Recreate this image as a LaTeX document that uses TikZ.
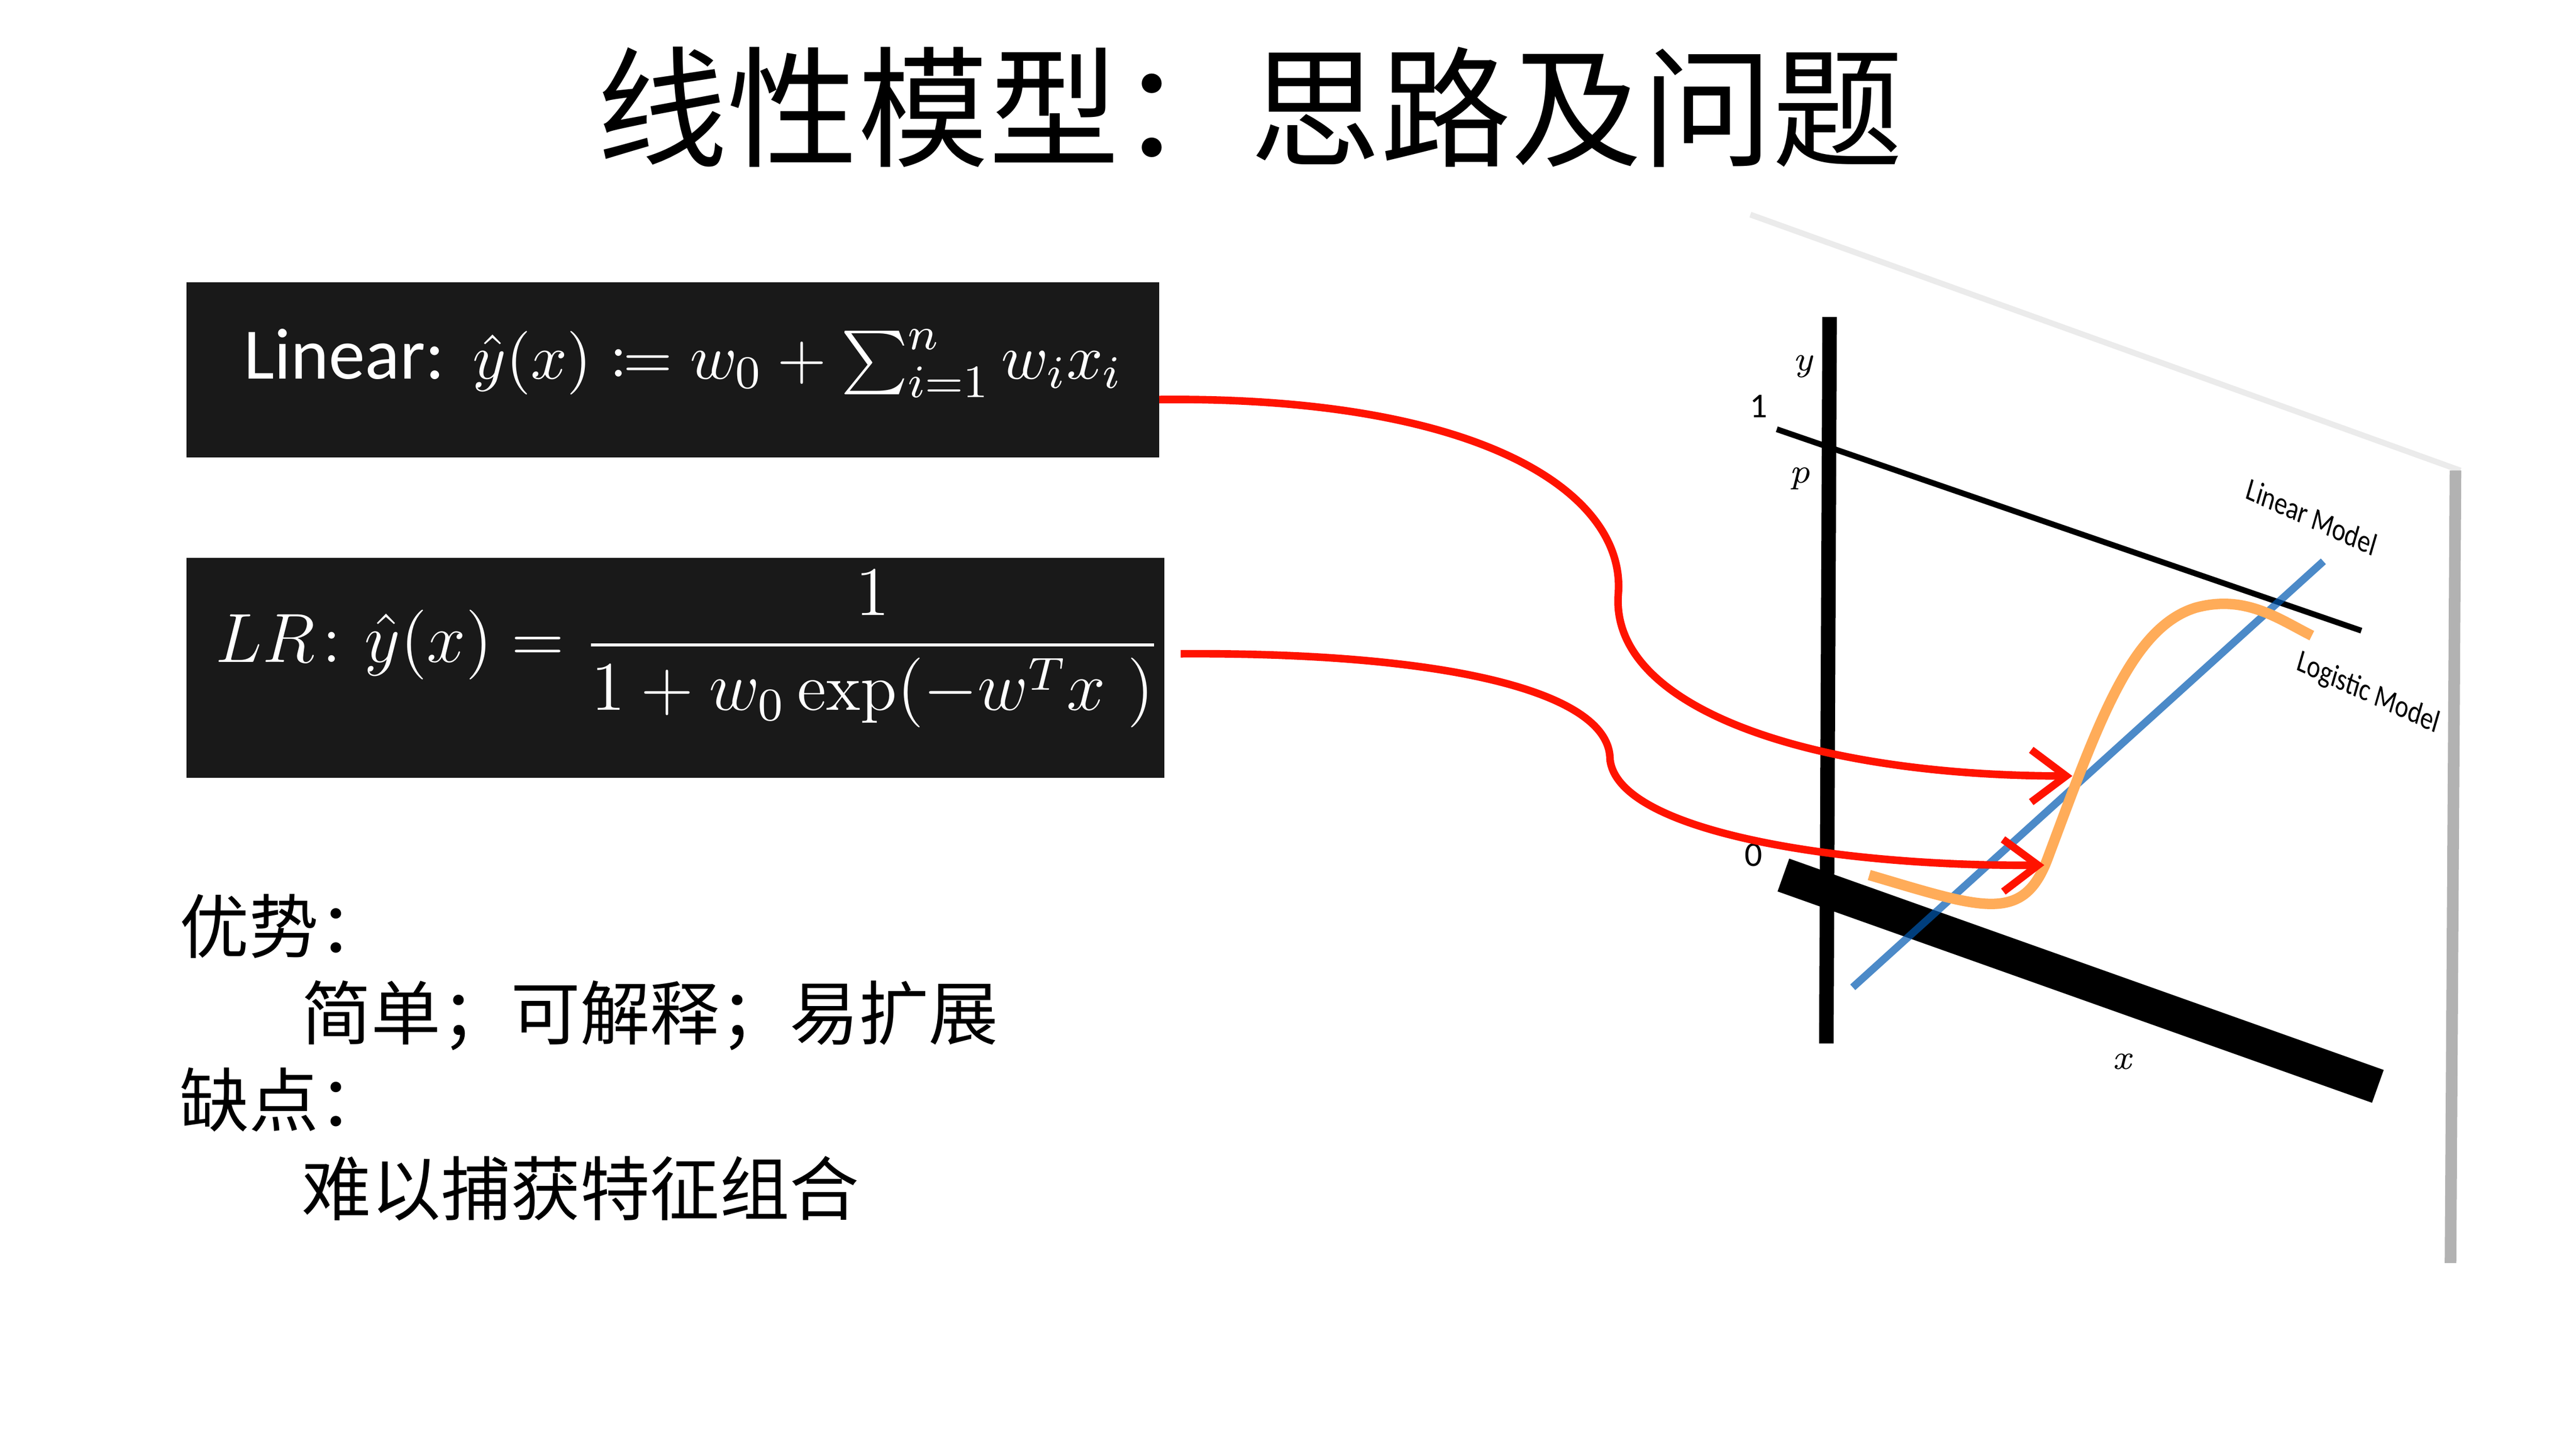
\documentclass[tikz,border=0pt]{standalone}
\usepackage{amsmath,mathtools}
\usepackage{fontspec}
\newfontfamily\cjk{Noto Sans CJK SC}
\newfontfamily\carl{Carlito}
\usetikzlibrary{arrows.meta}
\tikzset{
 mbox/.style={fill=black!90,draw=none},
 red arr/.style={draw=red!85!orange,line width=1.3pt,-{Straight Barb[length=6pt,width=9pt]}},
 cn/.style={font=\cjk\fontsize{12}{14}\selectfont,anchor=west,inner sep=0},
 lbl/.style={font=\fontsize{6}{7}\selectfont\itshape,inner sep=0},
 plab/.style={font=\carl\fontsize{5.5}{6}\selectfont,xscale=0.8,rotate=-20,inner sep=0},
}
\begin{document}
\begin{tikzpicture}[x=0.01cm,y=-0.01cm]
\useasboundingbox[fill=white] (0,0) rectangle (1560,877);
\node[font=\cjk\fontsize{22.5}{26}\selectfont] (title) at (757,65) {线性模型：思路及问题};
% boxes
\fill[mbox] (113,171) rectangle (702,277);
\node[text=white,anchor=west,font=\fontsize{11}{14}\selectfont,inner sep=0] (f1) at (147,220) {{\carl\fontsize{12.5}{14}\selectfont Linear:} $\hat{y}(x) \coloneqq w_0+\sum_{i=1}^{n} w_i x_i$};
\fill[mbox] (113,338) rectangle (705,471);
\node[text=white,anchor=west,font=\fontsize{11.5}{14}\selectfont,inner sep=0] (f2) at (130,393) {$LR\colon \hat{y}(x)=\dfrac{1}{1+w_0\exp(-w^T x\ )}$};
\coordinate (s1) at (702,242);
\coordinate (s2) at (715,396);
% texts
\node[cn] (t1) at (108,561) {优势：};
\node[cn] (t2) at (182,615) {简单；可解释；易扩展};
\node[cn] (t3) at (108,666) {缺点：};
\node[cn] (t4) at (182,720) {难以捕获特征组合};
% plot
\draw[black!8,line width=1pt] (1060,130) -- (1490,285);
\draw[black!30,line width=2pt] (1487,285) -- (1484,765);
\draw[line width=2.5pt] (1108,192) -- (1106,632);
\draw[line width=6pt] (1080,530) -- (1440,658);
\draw[line width=1pt] (1076,260) -- (1430,382);
\draw[blue!50!cyan!70!black,line width=1.3pt,opacity=0.7] (1122,598) -- (1407,340);
\draw[orange!65,line width=1.8pt] (1132,530) .. controls (1200,550) and (1225,560) .. (1240,520)
  .. controls (1270,440) and (1290,380) .. (1330,368) .. controls (1360,360) and (1380,375) .. (1400,385);
\node[lbl] (ly) at (1092,222) {y};
\node[lbl,font=\carl\fontsize{6}{7}\selectfont] (l1) at (1065,246) {1};
\node[lbl] (lp) at (1090,290) {p};
\node[lbl,font=\carl\fontsize{6}{7}\selectfont] (l0) at (1062,518) {0};
\node[lbl] (lx) at (1285,643) {x};
\node[plab] (lm) at (1400,313) {Linear Model};
\node[plab] (gm) at (1434,420) {Logistic Model};
\coordinate (e1) at (1255,470);
\coordinate (e2) at (1238,524);
\draw[red arr] (s1) .. controls (900,240) and (985,300) .. (980,360) .. controls (975,430) and (1100,470) .. (e1);
\draw[red arr] (s2) .. controls (880,395) and (975,420) .. (975,460) .. controls (980,505) and (1120,525) .. (e2);
\end{tikzpicture}
\end{document}
